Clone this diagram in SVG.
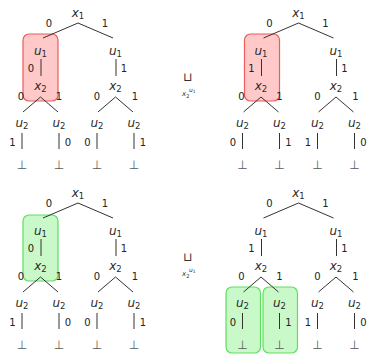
<svg xmlns="http://www.w3.org/2000/svg" width="367" height="355" viewBox="0 0 367 355">
  <style>
    .v { font-family: "DejaVu Sans", sans-serif; font-style: italic; font-size: 12px; fill: #2a2a2a; text-anchor: middle; }
    .v tspan.s { font-size: 8.5px; font-style: normal; }
    .l { font-family: "DejaVu Sans", sans-serif; font-size: 10px; fill: #222; text-anchor: middle; }
    .b { font-family: "DejaVu Sans", sans-serif; font-size: 12px; fill: #5a5a5a; text-anchor: middle; }
    .edge { fill: none; stroke: #333; stroke-width: 1; }
    .red { fill: #ffc9c9; stroke: #ef5a5a; stroke-width: 1.2; }
    .green { fill: #c9f8c9; stroke: #5ee05e; stroke-width: 1.2; }
    .op { font-family: "DejaVu Sans", sans-serif; fill: #333; }
  </style>
  <defs>
    <path id="skeleton" d="M0,23 L-35,38 M0,23 L35,38 M-37,59 V76 M38,59 V76 M-37.5,97 L-55,112 M-37.5,97 L-20,112 M37.5,97 L20,112 M37.5,97 L55,112 M-56,133 V149 M-19,133 V149 M19,133 V149 M56,133 V149"/>
  </defs>

  <!-- highlight boxes -->
  <g id="highlights">
    <rect class="red" x="23" y="34" width="35" height="67" rx="6"/>
    <rect class="red" x="244.5" y="34" width="35" height="67" rx="6"/>
    <rect class="green" x="23" y="215" width="35" height="66" rx="6"/>
    <rect class="green" x="226" y="287" width="34.5" height="66" rx="6"/>
    <rect class="green" x="263" y="287" width="34.5" height="66" rx="6"/>
  </g>

  <!-- connectors -->
  <g id="connectors" class="edge">
    <use href="#skeleton" transform="translate(78,0)"/>
    <use href="#skeleton" transform="translate(298.5,0)"/>
    <use href="#skeleton" transform="translate(78,180)"/>
    <use href="#skeleton" transform="translate(298.5,180)"/>
  </g>

  <!-- tree A (top left) -->
  <g id="treeA" transform="translate(78,0)">
    <g id="a-x1"><text class="v" x="0" y="17">x<tspan class="s" dy="2">1</tspan></text></g>
    <text class="l" x="-29" y="27">0</text><text class="l" x="27" y="27">1</text>
    <g id="a-u1l"><text class="v" x="-37.5" y="55">u<tspan class="s" dy="2">1</tspan></text></g>
    <g id="a-u1r"><text class="v" x="37.5" y="55">u<tspan class="s" dy="2">1</tspan></text></g>
    <text class="l" x="-47" y="72">0</text><text class="l" x="46" y="72">1</text>
    <g id="a-x2l"><text class="v" x="-37.5" y="90">x<tspan class="s" dy="2">2</tspan></text></g>
    <g id="a-x2r"><text class="v" x="37.5" y="90">x<tspan class="s" dy="2">2</tspan></text></g>
    <text class="l" x="-57" y="100">0</text><text class="l" x="-19" y="100">1</text>
    <text class="l" x="19" y="100">0</text><text class="l" x="57" y="100">1</text>
    <g id="a-u2a"><text class="v" x="-56" y="127">u<tspan class="s" dy="2">2</tspan></text></g>
    <g id="a-u2b"><text class="v" x="-19" y="127">u<tspan class="s" dy="2">2</tspan></text></g>
    <g id="a-u2c"><text class="v" x="19" y="127">u<tspan class="s" dy="2">2</tspan></text></g>
    <g id="a-u2d"><text class="v" x="56" y="127">u<tspan class="s" dy="2">2</tspan></text></g>
    <text class="l" x="-65.5" y="146">1</text><text class="l" x="-10" y="146">0</text>
    <text class="l" x="9.5" y="146">0</text><text class="l" x="65" y="146">1</text>
    <g id="a-b1"><text class="b" x="-56" y="169">⊥</text></g>
    <g id="a-b2"><text class="b" x="-19" y="169">⊥</text></g>
    <g id="a-b3"><text class="b" x="19" y="169">⊥</text></g>
    <g id="a-b4"><text class="b" x="56" y="169">⊥</text></g>
  </g>

  <!-- tree B (top right) -->
  <g id="treeB" transform="translate(298.5,0)">
    <g id="b-x1"><text class="v" x="0" y="17">x<tspan class="s" dy="2">1</tspan></text></g>
    <text class="l" x="-29" y="27">0</text><text class="l" x="27" y="27">1</text>
    <g id="b-u1l"><text class="v" x="-37.5" y="55">u<tspan class="s" dy="2">1</tspan></text></g>
    <g id="b-u1r"><text class="v" x="37.5" y="55">u<tspan class="s" dy="2">1</tspan></text></g>
    <text class="l" x="-47" y="72">1</text><text class="l" x="46" y="72">1</text>
    <g id="b-x2l"><text class="v" x="-37.5" y="90">x<tspan class="s" dy="2">2</tspan></text></g>
    <g id="b-x2r"><text class="v" x="37.5" y="90">x<tspan class="s" dy="2">2</tspan></text></g>
    <text class="l" x="-57" y="100">0</text><text class="l" x="-19" y="100">1</text>
    <text class="l" x="19" y="100">0</text><text class="l" x="57" y="100">1</text>
    <g id="b-u2a"><text class="v" x="-56" y="127">u<tspan class="s" dy="2">2</tspan></text></g>
    <g id="b-u2b"><text class="v" x="-19" y="127">u<tspan class="s" dy="2">2</tspan></text></g>
    <g id="b-u2c"><text class="v" x="19" y="127">u<tspan class="s" dy="2">2</tspan></text></g>
    <g id="b-u2d"><text class="v" x="56" y="127">u<tspan class="s" dy="2">2</tspan></text></g>
    <text class="l" x="-65.5" y="146">0</text><text class="l" x="-10" y="146">1</text>
    <text class="l" x="9.5" y="146">1</text><text class="l" x="65" y="146">0</text>
    <g id="b-b1"><text class="b" x="-56" y="169">⊥</text></g>
    <g id="b-b2"><text class="b" x="-19" y="169">⊥</text></g>
    <g id="b-b3"><text class="b" x="19" y="169">⊥</text></g>
    <g id="b-b4"><text class="b" x="56" y="169">⊥</text></g>
  </g>

  <!-- tree C (bottom left) -->
  <g id="treeC" transform="translate(78,180)">
    <g id="c-x1"><text class="v" x="0" y="17">x<tspan class="s" dy="2">1</tspan></text></g>
    <text class="l" x="-29" y="27">0</text><text class="l" x="27" y="27">1</text>
    <g id="c-u1l"><text class="v" x="-37.5" y="55">u<tspan class="s" dy="2">1</tspan></text></g>
    <g id="c-u1r"><text class="v" x="37.5" y="55">u<tspan class="s" dy="2">1</tspan></text></g>
    <text class="l" x="-47" y="72">0</text><text class="l" x="46" y="72">1</text>
    <g id="c-x2l"><text class="v" x="-37.5" y="90">x<tspan class="s" dy="2">2</tspan></text></g>
    <g id="c-x2r"><text class="v" x="37.5" y="90">x<tspan class="s" dy="2">2</tspan></text></g>
    <text class="l" x="-57" y="100">0</text><text class="l" x="-19" y="100">1</text>
    <text class="l" x="19" y="100">0</text><text class="l" x="57" y="100">1</text>
    <g id="c-u2a"><text class="v" x="-56" y="127">u<tspan class="s" dy="2">2</tspan></text></g>
    <g id="c-u2b"><text class="v" x="-19" y="127">u<tspan class="s" dy="2">2</tspan></text></g>
    <g id="c-u2c"><text class="v" x="19" y="127">u<tspan class="s" dy="2">2</tspan></text></g>
    <g id="c-u2d"><text class="v" x="56" y="127">u<tspan class="s" dy="2">2</tspan></text></g>
    <text class="l" x="-65.5" y="146">1</text><text class="l" x="-10" y="146">0</text>
    <text class="l" x="9.5" y="146">0</text><text class="l" x="65" y="146">1</text>
    <g id="c-b1"><text class="b" x="-56" y="169">⊥</text></g>
    <g id="c-b2"><text class="b" x="-19" y="169">⊥</text></g>
    <g id="c-b3"><text class="b" x="19" y="169">⊥</text></g>
    <g id="c-b4"><text class="b" x="56" y="169">⊥</text></g>
  </g>

  <!-- tree D (bottom right) -->
  <g id="treeD" transform="translate(298.5,180)">
    <g id="d-x1"><text class="v" x="0" y="17">x<tspan class="s" dy="2">1</tspan></text></g>
    <text class="l" x="-29" y="27">0</text><text class="l" x="27" y="27">1</text>
    <g id="d-u1l"><text class="v" x="-37.5" y="55">u<tspan class="s" dy="2">1</tspan></text></g>
    <g id="d-u1r"><text class="v" x="37.5" y="55">u<tspan class="s" dy="2">1</tspan></text></g>
    <text class="l" x="-47" y="72">1</text><text class="l" x="46" y="72">1</text>
    <g id="d-x2l"><text class="v" x="-37.5" y="90">x<tspan class="s" dy="2">2</tspan></text></g>
    <g id="d-x2r"><text class="v" x="37.5" y="90">x<tspan class="s" dy="2">2</tspan></text></g>
    <text class="l" x="-57" y="100">0</text><text class="l" x="-19" y="100">1</text>
    <text class="l" x="19" y="100">0</text><text class="l" x="57" y="100">1</text>
    <g id="d-u2a"><text class="v" x="-56" y="127">u<tspan class="s" dy="2">2</tspan></text></g>
    <g id="d-u2b"><text class="v" x="-19" y="127">u<tspan class="s" dy="2">2</tspan></text></g>
    <g id="d-u2c"><text class="v" x="19" y="127">u<tspan class="s" dy="2">2</tspan></text></g>
    <g id="d-u2d"><text class="v" x="56" y="127">u<tspan class="s" dy="2">2</tspan></text></g>
    <text class="l" x="-65.5" y="146">0</text><text class="l" x="-10" y="146">1</text>
    <text class="l" x="9.5" y="146">1</text><text class="l" x="65" y="146">0</text>
    <g id="d-b1"><text class="b" x="-56" y="169">⊥</text></g>
    <g id="d-b2"><text class="b" x="-19" y="169">⊥</text></g>
    <g id="d-b3"><text class="b" x="19" y="169">⊥</text></g>
    <g id="d-b4"><text class="b" x="56" y="169">⊥</text></g>
  </g>

  <!-- join operators between the trees -->
  <g id="join-top" class="op">
    <text x="188" y="81" font-size="12" text-anchor="middle">⊔</text>
    <text x="182" y="96" font-size="7" font-style="italic">x</text>
    <text x="186.3" y="97.5" font-size="5">2</text>
    <text x="189" y="91.5" font-size="6" font-style="italic">u</text>
    <text x="192.8" y="92.5" font-size="4.5">1</text>
  </g>
  <g id="join-bottom" class="op">
    <text x="188" y="261" font-size="12" text-anchor="middle">⊔</text>
    <text x="182" y="276" font-size="7" font-style="italic">x</text>
    <text x="186.3" y="277.5" font-size="5">2</text>
    <text x="189" y="271.5" font-size="6" font-style="italic">u</text>
    <text x="192.8" y="272.5" font-size="4.5">1</text>
  </g>
</svg>
